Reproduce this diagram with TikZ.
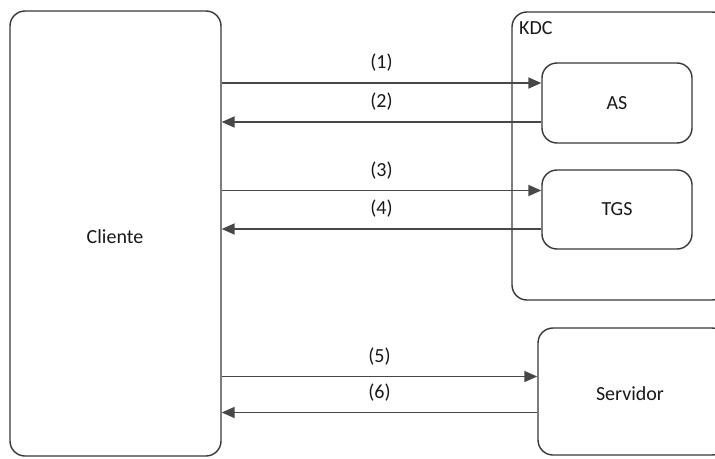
\documentclass[tikz,border=0pt]{standalone}
\usepackage{fontspec}
\setmainfont{Carlito}
\usetikzlibrary{arrows.meta}
\begin{document}
\begin{tikzpicture}[x=1pt,y=-1pt,
  box/.style={draw=black!78,line width=1.4pt,rounded corners=15pt,fill=white,inner sep=0pt},
  arr/.style={draw=black!72,line width=1.8pt,-{Triangle[length=13pt,width=11pt]}},
  lbl/.style={font=\fontsize{20}{24}\selectfont,text=black!90,inner sep=0pt},
  every node/.style={font=\fontsize{20}{24}\selectfont,text=black!90}]
\useasboundingbox (0,0) rectangle (715,458);
\clip (0,0) rectangle (715,458);
\fill[white] (0,0) rectangle (715,458);
\node[box,minimum width=211pt,minimum height=445pt] (cli) at (115.5,233.5) {};
\node at (115,237) {Cliente};
\node[box,minimum width=215pt,minimum height=288pt] (kdc) at (619.5,156) {};
\node[anchor=north west,inner sep=0pt] (kdcl) at (519,21) {KDC};
\node[box,minimum width=150pt,minimum height=80pt] (as) at (617,103) {AS};
\node[box,minimum width=150pt,minimum height=79pt] (tgs) at (617,209.5) {TGS};
\node[box,minimum width=189pt,minimum height=127pt] (srv) at (632.5,391.5) {};
\node at (630,394) {Servidor};
\coordinate (a1) at ([yshift=20pt]as.west);
\coordinate (a2) at ([yshift=-19pt]as.west);
\coordinate (a3) at ([yshift=19pt]tgs.west);
\coordinate (a4) at ([yshift=-19.5pt]tgs.west);
\coordinate (a5) at ([yshift=15pt]srv.west);
\coordinate (a6) at ([yshift=-21pt]srv.west);
\draw[arr] (cli.east |- a1) -- node[lbl,yshift=20pt] (l1) {(1)} (a1);
\draw[arr] (a2) -- node[lbl,yshift=20pt] (l2) {(2)} (cli.east |- a2);
\draw[arr] (cli.east |- a3) -- node[lbl,yshift=20pt] (l3) {(3)} (a3);
\draw[arr] (a4) -- node[lbl,yshift=20pt] (l4) {(4)} (cli.east |- a4);
\draw[arr] (cli.east |- a5) -- node[lbl,yshift=20pt] (l5) {(5)} (a5);
\draw[arr] (a6) -- node[lbl,yshift=20pt] (l6) {(6)} (cli.east |- a6);
\end{tikzpicture}
\end{document}
